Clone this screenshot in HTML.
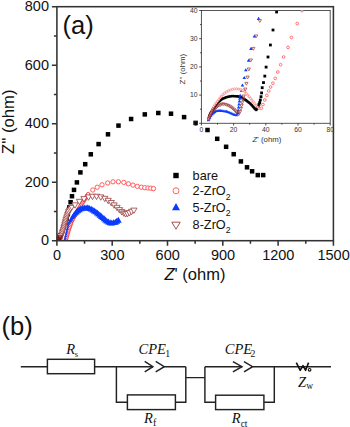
<!DOCTYPE html><html><head><meta charset="utf-8"><style>html,body{margin:0;padding:0;background:#fff;width:350px;height:427px;overflow:hidden}svg{display:block}</style></head><body><svg width="350" height="427" viewBox="0 0 350 427">
<rect width="350" height="427" fill="#fff"/>
<defs><clipPath id="cm"><rect x="56.9" y="6.7" width="276.5" height="234"/></clipPath><clipPath id="ci"><rect x="201.4" y="10.5" width="128.8" height="112.8"/></clipPath></defs><g clip-path="url(#cm)">
<g fill="#000"><rect x="56.25" y="237.25" width="4.5" height="4.5"/><rect x="58.11" y="233.15" width="4.5" height="4.5"/><rect x="59.89" y="229.02" width="4.5" height="4.5"/><rect x="61.57" y="224.85" width="4.5" height="4.5"/><rect x="63.09" y="220.61" width="4.5" height="4.5"/><rect x="64.42" y="216.31" width="4.5" height="4.5"/><rect x="65.6" y="211.97" width="4.5" height="4.5"/><rect x="66.63" y="207.6" width="4.5" height="4.5"/><rect x="67.05" y="205.15" width="4.5" height="4.5"/><rect x="68.35" y="199.95" width="4.5" height="4.5"/><rect x="69.75" y="193.95" width="4.5" height="4.5"/><rect x="71.75" y="187.65" width="4.5" height="4.5"/><rect x="74.65" y="180.15" width="4.5" height="4.5"/><rect x="78.15" y="170.15" width="4.5" height="4.5"/><rect x="82.95" y="161.95" width="4.5" height="4.5"/><rect x="88.55" y="152.05" width="4.5" height="4.5"/><rect x="96.35" y="141.85" width="4.5" height="4.5"/><rect x="105.75" y="132.05" width="4.5" height="4.5"/><rect x="116.25" y="123.35" width="4.5" height="4.5"/><rect x="128.85" y="116.75" width="4.5" height="4.5"/><rect x="142.55" y="112.15" width="4.5" height="4.5"/><rect x="156.05" y="110.75" width="4.5" height="4.5"/><rect x="168.75" y="111.45" width="4.5" height="4.5"/><rect x="181.85" y="114.85" width="4.5" height="4.5"/><rect x="193.35" y="120.65" width="4.5" height="4.5"/><rect x="205.25" y="127.75" width="4.5" height="4.5"/><rect x="214.95" y="136.55" width="4.5" height="4.5"/><rect x="223.85" y="144.55" width="4.5" height="4.5"/><rect x="231.45" y="151.95" width="4.5" height="4.5"/><rect x="238.65" y="159.15" width="4.5" height="4.5"/><rect x="244.75" y="165.05" width="4.5" height="4.5"/><rect x="249.85" y="169.05" width="4.5" height="4.5"/><rect x="255.55" y="172.85" width="4.5" height="4.5"/><rect x="260.95" y="172.85" width="4.5" height="4.5"/></g>
<g fill="#fff" stroke="#f22" stroke-width="0.8"><circle cx="65.5" cy="241" r="1.7"/><circle cx="65.92" cy="239.56" r="1.7"/><circle cx="66.34" cy="238.12" r="1.7"/><circle cx="66.75" cy="236.68" r="1.7"/><circle cx="67.17" cy="235.24" r="1.7"/><circle cx="67.59" cy="233.8" r="1.7"/><circle cx="68.01" cy="232.36" r="1.7"/><circle cx="68.43" cy="230.92" r="1.7"/><circle cx="68.9" cy="229.49" r="1.7"/><circle cx="69.38" cy="228.07" r="1.7"/><circle cx="69.85" cy="226.65" r="1.7"/><circle cx="70.33" cy="225.22" r="1.7"/><circle cx="70.8" cy="223.8" r="1.7"/><circle cx="71.27" cy="222.38" r="1.7"/><circle cx="71.91" cy="221.03" r="1.7"/><circle cx="72.61" cy="219.7" r="1.7"/><circle cx="73.31" cy="218.37" r="1.7"/><circle cx="74.01" cy="217.05" r="1.7"/><circle cx="74.73" cy="215.73" r="1.7"/><circle cx="75.47" cy="214.42" r="1.7"/><circle cx="76.2" cy="213.12" r="1.7"/><circle cx="76.94" cy="211.81" r="1.7"/><circle cx="77.72" cy="210.53" r="1.7"/><circle cx="78.51" cy="209.25" r="1.7"/><circle cx="79.29" cy="207.97" r="1.7"/><circle cx="80.08" cy="206.7" r="1.7"/><circle cx="80.88" cy="205.43" r="1.7"/><circle cx="81.68" cy="204.16" r="1.7"/><circle cx="82.48" cy="202.89" r="1.7"/><circle cx="83.29" cy="201.63" r="1.7"/><circle cx="84.09" cy="200.36" r="1.7"/><circle cx="84.91" cy="199.1" r="1.7"/><circle cx="85.72" cy="197.84" r="1.7"/><circle cx="86.54" cy="196.58" r="1.7"/><circle cx="87.35" cy="195.32" r="1.7"/><circle cx="88.17" cy="194.06" r="1.7"/></g><g fill="#fff" stroke="#f55" stroke-width="0.95"><circle cx="92.8" cy="190" r="2.15"/><circle cx="97.2" cy="187.2" r="2.15"/><circle cx="102" cy="184.8" r="2.15"/><circle cx="107.7" cy="183" r="2.15"/><circle cx="113" cy="181.8" r="2.15"/><circle cx="118.4" cy="181.8" r="2.15"/><circle cx="123.8" cy="182.4" r="2.15"/><circle cx="128.4" cy="183.8" r="2.15"/><circle cx="133" cy="185.1" r="2.15"/><circle cx="137.3" cy="186.3" r="2.15"/><circle cx="141.3" cy="187.2" r="2.15"/><circle cx="144.8" cy="187.7" r="2.15"/><circle cx="147.9" cy="188" r="2.15"/><circle cx="150.7" cy="188.2" r="2.15"/><circle cx="153.5" cy="188.6" r="2.15"/></g>
<g fill="#0a3cff"><path d="M64.5 239.79L65.9 242.21L63.1 242.21Z"/><path d="M64.89 238.03L66.29 240.46L63.49 240.46Z"/><path d="M65.28 236.27L66.68 238.7L63.88 238.7Z"/><path d="M65.67 234.52L67.07 236.94L64.27 236.94Z"/><path d="M66.06 232.76L67.46 235.18L64.66 235.18Z"/><path d="M66.45 231L67.85 233.43L65.05 233.43Z"/><path d="M66.86 229.25L68.26 231.67L65.46 231.67Z"/><path d="M67.27 227.5L68.67 229.92L65.87 229.92Z"/><path d="M67.69 225.71L69.13 228.21L66.25 228.21Z"/><path d="M68.1 223.88L69.63 226.53L66.57 226.53Z"/><path d="M68.52 222.05L70.15 224.87L66.9 224.87Z"/><path d="M69.4 220.31L71.22 223.46L67.58 223.46Z"/><path d="M70.27 218.56L72.29 222.06L68.26 222.06Z"/><path d="M71.16 216.83L73.37 220.66L68.95 220.66Z"/><path d="M72.11 215.12L74.53 219.32L69.69 219.32Z"/><path d="M73.06 213.41L75.7 217.97L70.42 217.97Z"/><path d="M74.06 211.72L76.92 216.67L71.2 216.67Z"/><path d="M75.24 210.13L78.36 215.54L72.12 215.54Z"/><path d="M76.42 208.55L79.8 214.4L73.04 214.4Z"/><path d="M77.76 207.36L81.16 213.25L74.36 213.25Z"/><path d="M79.26 206.37L82.66 212.26L75.86 212.26Z"/><path d="M80.81 205.46L84.21 211.35L77.41 211.35Z"/><path d="M82.52 204.92L85.92 210.81L79.12 210.81Z"/><path d="M84.25 204.45L87.65 210.34L80.85 210.34Z"/><path d="M86.05 204.4L89.45 210.29L82.65 210.29Z"/><path d="M87.85 204.36L91.25 210.25L84.45 210.25Z"/><path d="M89.52 205L92.92 210.89L86.12 210.89Z"/><path d="M91.18 205.71L94.58 211.59L87.78 211.59Z"/><path d="M92.77 206.53L96.17 212.42L89.37 212.42Z"/><path d="M94.29 207.49L97.69 213.38L90.89 213.38Z"/><path d="M95.82 208.44L99.22 214.33L92.42 214.33Z"/><path d="M97.22 209.57L100.62 215.45L93.82 215.45Z"/><path d="M98.61 210.71L102.01 216.6L95.21 216.6Z"/><path d="M100 211.86L103.4 217.74L96.6 217.74Z"/><path d="M101.39 213L104.79 218.89L97.99 218.89Z"/><path d="M102.76 214.17L106.16 220.06L99.36 220.06Z"/><path d="M104.12 215.35L107.52 221.24L100.72 221.24Z"/><path d="M105.48 216.53L108.88 222.42L102.08 222.42Z"/><path d="M106.84 217.71L110.24 223.6L103.44 223.6Z"/><path d="M108.44 218.5L111.84 224.39L105.04 224.39Z"/><path d="M110.08 219.24L113.48 225.13L106.68 225.13Z"/><path d="M111.78 219.51L115.18 225.4L108.38 225.4Z"/><path d="M113.55 219.18L116.95 225.07L110.15 225.07Z"/><path d="M115.32 218.84L118.72 224.73L111.92 224.73Z"/><path d="M116.82 217.86L120.22 223.75L113.42 223.75Z"/><path d="M118.33 216.87L121.73 222.76L114.93 222.76Z"/></g>
<g fill="#fff" stroke="#9a3a3a" stroke-width="0.75"><path d="M59.6 243.42L62.4 238.58L56.8 238.58Z"/><path d="M60.14 241.81L62.94 236.96L57.34 236.96Z"/><path d="M60.67 240.2L63.47 235.35L57.87 235.35Z"/><path d="M61.2 238.58L64 233.73L58.4 233.73Z"/><path d="M61.72 236.97L64.52 232.12L58.92 232.12Z"/><path d="M62.25 235.35L65.05 230.5L59.45 230.5Z"/><path d="M62.78 233.73L65.58 228.88L59.98 228.88Z"/><path d="M63.28 232.11L66.08 227.26L60.48 227.26Z"/><path d="M63.71 230.46L66.51 225.61L60.91 225.61Z"/><path d="M64.14 228.82L66.94 223.97L61.34 223.97Z"/><path d="M64.57 227.17L67.37 222.32L61.77 222.32Z"/><path d="M64.99 225.53L67.79 220.68L62.19 220.68Z"/><path d="M65.42 223.88L68.22 219.03L62.62 219.03Z"/><path d="M65.86 222.24L68.66 217.39L63.06 217.39Z"/><path d="M66.39 220.62L69.19 215.77L63.59 215.77Z"/><path d="M66.91 219.01L69.71 214.16L64.11 214.16Z"/><path d="M67.44 217.39L70.24 212.54L64.64 212.54Z"/><path d="M67.96 215.77L70.76 210.92L65.16 210.92Z"/><path d="M68.58 214.21L71.38 209.36L65.78 209.36Z"/><path d="M69.64 212.88L72.44 208.03L66.84 208.03Z"/><path d="M70.7 211.55L73.5 206.7L67.9 206.7Z"/><path d="M71.76 210.22L74.56 205.37L68.96 205.37Z"/><path d="M58.5 243.42L61.3 238.58L55.7 238.58Z"/><path d="M58.78 242.68L61.58 237.83L55.98 237.83Z"/><path d="M59.07 241.93L61.87 237.08L56.27 237.08Z"/><path d="M59.35 241.18L62.15 236.33L56.55 236.33Z"/><path d="M59.63 240.43L62.43 235.58L56.83 235.58Z"/><path d="M59.91 239.68L62.71 234.83L57.11 234.83Z"/><path d="M60.2 238.93L63 234.08L57.4 234.08Z"/></g><g fill="none" stroke="#801010" stroke-width="0.7"><path d="M58.4 243.32L60.5 239.68L56.3 239.68Z"/><path d="M58.73 242.48L60.83 238.85L56.63 238.85Z"/><path d="M59.07 241.65L61.17 238.01L56.97 238.01Z"/><path d="M59.4 240.81L61.5 237.17L57.3 237.17Z"/><path d="M59.74 239.98L61.84 236.34L57.64 236.34Z"/><path d="M60.07 239.14L62.17 235.5L57.97 235.5Z"/></g><g fill="#fff" stroke="#9e4444" stroke-width="0.85"><path d="M75 208.18L78.1 202.82L71.9 202.82Z"/><path d="M79.4 204.68L82.5 199.32L76.3 199.32Z"/><path d="M84 201.98L87.1 196.62L80.9 196.62Z"/><path d="M88.5 200.28L91.6 194.92L85.4 194.92Z"/><path d="M92.5 199.58L95.6 194.22L89.4 194.22Z"/><path d="M96.6 199.58L99.7 194.22L93.5 194.22Z"/><path d="M100.8 200.28L103.9 194.92L97.7 194.92Z"/><path d="M104.8 201.68L107.9 196.32L101.7 196.32Z"/><path d="M108.2 203.68L111.3 198.32L105.1 198.32Z"/><path d="M111.3 205.88L114.4 200.52L108.2 200.52Z"/><path d="M114.1 208.28L117.2 202.92L111 202.92Z"/><path d="M117 210.68L120.1 205.32L113.9 205.32Z"/><path d="M119.5 212.98L122.6 207.62L116.4 207.62Z"/><path d="M121.8 214.98L124.9 209.62L118.7 209.62Z"/><path d="M123.8 216.28L126.9 210.92L120.7 210.92Z"/><path d="M125.6 217.08L128.7 211.72L122.5 211.72Z"/><path d="M127.5 216.88L130.6 211.52L124.4 211.52Z"/><path d="M129.5 215.88L132.6 210.52L126.4 210.52Z"/><path d="M131.6 214.68L134.7 209.32L128.5 209.32Z"/><path d="M133.9 213.48L137 208.12L130.8 208.12Z"/></g>
</g>
<g stroke="#333" stroke-width="1.55" fill="none">
<rect x="56.9" y="6.7" width="276.5" height="234"/>
<path d="M51.9 240.7H56.9M53.9 211.45H56.9M51.9 182.2H56.9M53.9 152.95H56.9M51.9 123.7H56.9M53.9 94.45H56.9M51.9 65.2H56.9M53.9 35.95H56.9M51.9 6.7H56.9M56.9 240.7V245.7M84.55 240.7V243.7M112.2 240.7V245.7M139.85 240.7V243.7M167.5 240.7V245.7M195.15 240.7V243.7M222.8 240.7V245.7M250.45 240.7V243.7M278.1 240.7V245.7M305.75 240.7V243.7M333.4 240.7V245.7"/>
</g>
<g font-family="Liberation Sans, sans-serif" font-size="14.5" fill="#111">
<text x="49" y="245.3" text-anchor="end">0</text>
<text x="49" y="186.8" text-anchor="end">200</text>
<text x="49" y="128.3" text-anchor="end">400</text>
<text x="49" y="69.8" text-anchor="end">600</text>
<text x="49" y="11.3" text-anchor="end">800</text>
<text x="57.1" y="260" text-anchor="middle">0</text>
<text x="112.4" y="260" text-anchor="middle">300</text>
<text x="167.7" y="260" text-anchor="middle">600</text>
<text x="223" y="260" text-anchor="middle">900</text>
<text x="278.3" y="260" text-anchor="middle">1200</text>
<text x="333.6" y="260" text-anchor="middle">1500</text>
</g>
<text x="164.5" y="279.7" font-family="Liberation Sans, sans-serif" font-size="16.5" fill="#111"><tspan font-style="italic">Z</tspan>' (ohm)</text>
<text transform="translate(13.8,154) rotate(-90)" font-family="Liberation Sans, sans-serif" font-size="16.6" fill="#111">Z'' (ohm)</text>
<text x="62.5" y="33.9" font-family="Liberation Sans, sans-serif" font-size="25.6" fill="#111">(a)</text>
<g font-family="Liberation Sans, sans-serif" font-size="12.7" fill="#111">
<rect x="173.3" y="172.8" width="5.4" height="5.4" fill="#000"/>
<text x="192.6" y="180">bare</text>
<circle cx="176" cy="190.8" r="3" fill="none" stroke="#f55" stroke-width="0.9"/>
<text x="192.6" y="195.4">2-ZrO<tspan font-size="8.7" dy="4.4">2</tspan></text>
<path d="M176 203.1L180 210.3H172Z" fill="#0a3cff"/>
<text x="192.6" y="212">5-ZrO<tspan font-size="8.7" dy="4.4">2</tspan></text>
<path d="M176 229.2L180.2 222.2H171.8Z" fill="none" stroke="#9a3b3b" stroke-width="0.9"/>
<text x="192.6" y="229">8-ZrO<tspan font-size="8.7" dy="4.4">2</tspan></text>
</g>
<rect x="201.4" y="10.5" width="128.8" height="112.8" fill="#fff" stroke="#444" stroke-width="0.9"/>
<g clip-path="url(#ci)">
<g fill="#000"><rect x="207.35" y="118.35" width="2.3" height="2.3"/><rect x="207.65" y="117.29" width="2.3" height="2.3"/><rect x="207.96" y="116.24" width="2.3" height="2.3"/><rect x="208.26" y="115.18" width="2.3" height="2.3"/><rect x="208.57" y="114.12" width="2.3" height="2.3"/><rect x="208.87" y="113.07" width="2.3" height="2.3"/><rect x="209.3" y="112.06" width="2.3" height="2.3"/><rect x="209.9" y="111.14" width="2.3" height="2.3"/><rect x="210.49" y="110.22" width="2.3" height="2.3"/><rect x="211.09" y="109.29" width="2.3" height="2.3"/><rect x="211.69" y="108.37" width="2.3" height="2.3"/><rect x="212.29" y="107.45" width="2.3" height="2.3"/><rect x="212.94" y="106.56" width="2.3" height="2.3"/><rect x="213.58" y="105.67" width="2.3" height="2.3"/><rect x="214.23" y="104.78" width="2.3" height="2.3"/><rect x="214.87" y="103.89" width="2.3" height="2.3"/><rect x="215.52" y="102.99" width="2.3" height="2.3"/><rect x="216.16" y="102.1" width="2.3" height="2.3"/><rect x="216.81" y="101.21" width="2.3" height="2.3"/><rect x="217.64" y="100.5" width="2.3" height="2.3"/><rect x="218.49" y="99.8" width="2.3" height="2.3"/><rect x="219.34" y="99.1" width="2.3" height="2.3"/><rect x="220.19" y="98.4" width="2.3" height="2.3"/><rect x="221.07" y="97.76" width="2.3" height="2.3"/><rect x="222.09" y="97.35" width="2.3" height="2.3"/><rect x="223.11" y="96.94" width="2.3" height="2.3"/><rect x="224.13" y="96.52" width="2.3" height="2.3"/><rect x="225.15" y="96.11" width="2.3" height="2.3"/><rect x="226.21" y="95.81" width="2.3" height="2.3"/><rect x="227.28" y="95.59" width="2.3" height="2.3"/><rect x="228.36" y="95.37" width="2.3" height="2.3"/><rect x="229.44" y="95.14" width="2.3" height="2.3"/><rect x="230.51" y="94.92" width="2.3" height="2.3"/><rect x="231.61" y="94.89" width="2.3" height="2.3"/><rect x="232.7" y="94.94" width="2.3" height="2.3"/><rect x="233.8" y="95" width="2.3" height="2.3"/><rect x="234.9" y="95.06" width="2.3" height="2.3"/><rect x="235.99" y="95.18" width="2.3" height="2.3"/><rect x="237.09" y="95.3" width="2.3" height="2.3"/><rect x="238.18" y="95.43" width="2.3" height="2.3"/><rect x="239.27" y="95.56" width="2.3" height="2.3"/><rect x="240.21" y="96.13" width="2.3" height="2.3"/><rect x="241.15" y="96.71" width="2.3" height="2.3"/><rect x="242.09" y="97.28" width="2.3" height="2.3"/><rect x="243.03" y="97.85" width="2.3" height="2.3"/><rect x="243.96" y="98.43" width="2.3" height="2.3"/><rect x="244.83" y="99.1" width="2.3" height="2.3"/><rect x="245.7" y="99.78" width="2.3" height="2.3"/><rect x="246.58" y="100.45" width="2.3" height="2.3"/><rect x="247.45" y="101.12" width="2.3" height="2.3"/><rect x="248.32" y="101.79" width="2.3" height="2.3"/><rect x="249.17" y="102.48" width="2.3" height="2.3"/><rect x="249.92" y="103.28" width="2.3" height="2.3"/><rect x="250.67" y="104.09" width="2.3" height="2.3"/><rect x="251.42" y="104.89" width="2.3" height="2.3"/><rect x="252.15" y="105.72" width="2.3" height="2.3"/><rect x="252.84" y="106.57" width="2.3" height="2.3"/><rect x="253.53" y="107.43" width="2.3" height="2.3"/><rect x="254.3" y="108.21" width="2.3" height="2.3"/><rect x="255.19" y="108.86" width="2.3" height="2.3"/><rect x="255.6" y="107.2" width="2.8" height="2.8"/><rect x="256.8" y="104.8" width="2.8" height="2.8"/><rect x="257.6" y="102.8" width="2.8" height="2.8"/><rect x="258.3" y="101.1" width="2.8" height="2.8"/><rect x="258.9" y="98.6" width="2.8" height="2.8"/><rect x="259.6" y="95.3" width="2.8" height="2.8"/><rect x="260.2" y="91.5" width="2.8" height="2.8"/><rect x="260.8" y="86.3" width="2.8" height="2.8"/><rect x="262.1" y="81.2" width="2.8" height="2.8"/><rect x="263.4" y="74.7" width="2.8" height="2.8"/><rect x="264.7" y="65.7" width="2.8" height="2.8"/><rect x="266.6" y="55.6" width="2.8" height="2.8"/><rect x="269" y="43.6" width="2.8" height="2.8"/><rect x="271.6" y="28.6" width="2.8" height="2.8"/><rect x="275.2" y="10.6" width="2.8" height="2.8"/></g>
<g fill="#0a3cff"><path d="M208.3 118.66L209.85 121.34L206.75 121.34Z"/><path d="M208.87 117.6L210.42 120.29L207.32 120.29Z"/><path d="M209.44 116.55L210.99 119.23L207.89 119.23Z"/><path d="M210.01 115.49L211.56 118.17L208.46 118.17Z"/><path d="M210.58 114.43L212.13 117.12L209.03 117.12Z"/><path d="M211.23 113.44L212.78 116.13L209.68 116.13Z"/><path d="M212.12 112.64L213.67 115.32L210.57 115.32Z"/><path d="M213.01 111.83L214.56 114.51L211.46 114.51Z"/><path d="M213.9 111.02L215.45 113.71L212.35 113.71Z"/><path d="M214.79 110.22L216.34 112.9L213.24 112.9Z"/><path d="M215.76 109.58L217.31 112.26L214.21 112.26Z"/><path d="M216.93 109.31L218.48 112L215.38 112Z"/><path d="M218.1 109.05L219.65 111.73L216.55 111.73Z"/><path d="M219.29 109.02L220.84 111.7L217.74 111.7Z"/><path d="M220.49 109.11L222.04 111.8L218.94 111.8Z"/><path d="M221.68 109.21L223.23 111.89L220.13 111.89Z"/><path d="M222.88 109.34L224.43 112.02L221.33 112.02Z"/><path d="M224.06 109.51L225.61 112.19L222.51 112.19Z"/><path d="M225.25 109.68L226.8 112.36L223.7 112.36Z"/><path d="M226.44 109.85L227.99 112.53L224.89 112.53Z"/><path d="M227.57 110.24L229.12 112.92L226.02 112.92Z"/><path d="M228.7 110.64L230.25 113.33L227.15 113.33Z"/><path d="M229.83 111.04L231.38 113.73L228.28 113.73Z"/><path d="M230.96 111.45L232.51 114.13L229.41 114.13Z"/><path d="M232.03 111.99L233.58 114.67L230.48 114.67Z"/><path d="M233.1 112.54L234.65 115.22L231.55 115.22Z"/><path d="M234.17 113.09L235.72 115.77L232.62 115.77Z"/><path d="M235.31 113.41L236.86 116.1L233.76 116.1Z"/><path d="M236.49 113.64L238.04 116.32L234.94 116.32Z"/><path d="M237.8 111.48L239.55 114.52L236.05 114.52Z"/><path d="M238.2 108.51L239.95 111.54L236.45 111.54Z"/><path d="M238.59 105.54L240.34 108.57L236.84 108.57Z"/><path d="M238.99 102.56L240.74 105.59L237.24 105.59Z"/><path d="M239.39 99.59L241.14 102.62L237.64 102.62Z"/><path d="M239.78 96.62L241.53 99.65L238.03 99.65Z"/><path d="M240.18 93.64L241.93 96.67L238.43 96.67Z"/><path d="M241.5 88.64L243.3 91.76L239.7 91.76Z"/><path d="M242.5 83.44L244.3 86.56L240.7 86.56Z"/><path d="M244.3 75.94L246.1 79.06L242.5 79.06Z"/><path d="M245.8 68.14L247.6 71.26L244 71.26Z"/><path d="M248.6 58.74L250.4 61.86L246.8 61.86Z"/><path d="M251 46.84L252.8 49.96L249.2 49.96Z"/><path d="M254.4 34.44L256.2 37.56L252.6 37.56Z"/><path d="M258.6 16.84L260.4 19.96L256.8 19.96Z"/></g>
<g fill="#fff" stroke="#f66" stroke-width="0.6"><circle cx="208.5" cy="119" r="1.05"/><circle cx="209.32" cy="116.96" r="1.05"/><circle cx="210.13" cy="114.91" r="1.05"/><circle cx="210.96" cy="112.88" r="1.05"/><circle cx="211.8" cy="110.84" r="1.05"/><circle cx="212.63" cy="108.81" r="1.05"/><circle cx="213.67" cy="106.87" r="1.05"/><circle cx="214.75" cy="104.95" r="1.05"/><circle cx="216.03" cy="103.17" r="1.05"/><circle cx="217.37" cy="101.42" r="1.05"/><circle cx="218.69" cy="99.66" r="1.05"/><circle cx="219.99" cy="97.89" r="1.05"/><circle cx="221.35" cy="96.17" r="1.05"/><circle cx="222.95" cy="94.65" r="1.05"/><circle cx="224.54" cy="93.14" r="1.05"/><circle cx="226.39" cy="91.97" r="1.05"/><circle cx="228.31" cy="90.89" r="1.05"/><circle cx="230.33" cy="90.04" r="1.05"/><circle cx="232.41" cy="89.32" r="1.05"/><circle cx="234.53" cy="88.87" r="1.05"/><circle cx="236.73" cy="88.81" r="1.05"/><circle cx="238.91" cy="89.08" r="1.05"/><circle cx="241.01" cy="89.63" r="1.05"/><circle cx="242.94" cy="90.69" r="1.05"/><circle cx="244.81" cy="91.83" r="1.05"/><circle cx="246.27" cy="93.47" r="1.05"/><circle cx="247.73" cy="95.12" r="1.05"/><circle cx="249.19" cy="96.76" r="1.05"/><circle cx="250.62" cy="98.44" r="1.05"/><circle cx="251.97" cy="100.17" r="1.05"/><circle cx="253.32" cy="101.91" r="1.05"/><circle cx="254.67" cy="103.65" r="1.05"/><circle cx="256.08" cy="105.34" r="1.05"/><circle cx="257.51" cy="107.01" r="1.05"/><circle cx="258.94" cy="108.68" r="1.05"/></g><g fill="#fff" stroke="#f55" stroke-width="0.8"><circle cx="261.3" cy="108.3" r="1.35"/><circle cx="262.9" cy="104.5" r="1.35"/><circle cx="264.8" cy="100" r="1.35"/><circle cx="266.8" cy="95.4" r="1.35"/><circle cx="268.7" cy="90.9" r="1.35"/><circle cx="270.6" cy="87" r="1.35"/><circle cx="272.9" cy="83.2" r="1.35"/><circle cx="275.2" cy="78.4" r="1.35"/><circle cx="277.8" cy="72" r="1.35"/><circle cx="280.6" cy="64.7" r="1.35"/><circle cx="283.6" cy="57" r="1.35"/><circle cx="288" cy="47.4" r="1.35"/><circle cx="291.4" cy="37.4" r="1.35"/><circle cx="297.2" cy="23.5" r="1.35"/><circle cx="302" cy="10.6" r="1.35"/></g>
<g fill="none" stroke="#8b2323" stroke-width="0.55"><path d="M208.8 120.34L210.35 117.66L207.25 117.66Z"/><path d="M209.48 118.79L211.03 116.1L207.93 116.1Z"/><path d="M210.17 117.23L211.72 114.55L208.62 114.55Z"/><path d="M210.85 115.67L212.4 112.99L209.3 112.99Z"/><path d="M211.77 114.25L213.32 111.57L210.22 111.57Z"/><path d="M212.76 112.87L214.31 110.18L211.21 110.18Z"/><path d="M213.75 111.49L215.3 108.8L212.2 108.8Z"/><path d="M214.97 110.3L216.52 107.62L213.42 107.62Z"/><path d="M216.19 109.12L217.74 106.43L214.64 106.43Z"/><path d="M217.41 107.93L218.96 105.25L215.86 105.25Z"/><path d="M218.91 107.14L220.46 104.45L217.36 104.45Z"/><path d="M220.43 106.38L221.98 103.69L218.88 103.69Z"/><path d="M221.95 105.62L223.5 102.93L220.4 102.93Z"/><path d="M223.58 105.68L225.13 103L222.03 103Z"/><path d="M225.25 106L226.8 103.32L223.7 103.32Z"/><path d="M226.87 106.51L228.42 103.82L225.32 103.82Z"/><path d="M228.43 107.17L229.98 104.49L226.88 104.49Z"/><path d="M229.93 107.96L231.48 105.28L228.38 105.28Z"/><path d="M231.34 108.9L232.89 106.22L229.79 106.22Z"/><path d="M232.68 109.94L234.23 107.26L231.13 107.26Z"/><path d="M233.96 111.07L235.51 108.38L232.41 108.38Z"/><path d="M235.15 112.27L236.7 109.59L233.6 109.59Z"/><path d="M236.28 113.54L237.83 110.86L234.73 110.86Z"/><path d="M237.4 114.82L238.95 112.14L235.85 112.14Z"/><path d="M238.49 116.13L240.04 113.44L236.94 113.44Z"/></g><g fill="none" stroke="#a04a4a" stroke-width="0.8"><path d="M240 113.43L241.65 110.57L238.35 110.57Z"/><path d="M240.73 110.31L242.38 107.46L239.08 107.46Z"/><path d="M241.46 107.2L243.11 104.34L239.81 104.34Z"/><path d="M242.2 104.08L243.85 101.23L240.55 101.23Z"/><path d="M242.93 100.97L244.58 98.11L241.28 98.11Z"/><path d="M243.66 97.85L245.31 95L242.01 95Z"/><path d="M245.3 90.93L246.95 88.07L243.65 88.07Z"/><path d="M246.4 85.23L248.05 82.37L244.75 82.37Z"/><path d="M247.6 78.93L249.25 76.07L245.95 76.07Z"/><path d="M248.8 70.83L250.45 67.97L247.15 67.97Z"/><path d="M250.8 61.83L252.45 58.97L249.15 58.97Z"/><path d="M253.3 50.23L254.95 47.37L251.65 47.37Z"/><path d="M256.1 37.83L257.75 34.97L254.45 34.97Z"/><path d="M259.8 22.43L261.45 19.57L258.15 19.57Z"/></g>
</g>
<path d="M199.2 123.3H201.4M200 109.2H201.4M199.2 95.1H201.4M200 81H201.4M199.2 66.9H201.4M200 52.8H201.4M199.2 38.7H201.4M200 24.6H201.4M199.2 10.5H201.4M201.4 123.3V125.5M217.5 123.3V124.7M233.6 123.3V125.5M249.7 123.3V124.7M265.8 123.3V125.5M281.9 123.3V124.7M298 123.3V125.5M314.1 123.3V124.7M330.2 123.3V125.5" stroke="#222" stroke-width="0.8" fill="none"/>
<g font-family="Liberation Sans, sans-serif" font-size="6.8" fill="#333">
<text x="197.6" y="125.6" text-anchor="end">0</text>
<text x="197.6" y="97.4" text-anchor="end">10</text>
<text x="197.6" y="69.2" text-anchor="end">20</text>
<text x="197.6" y="41" text-anchor="end">30</text>
<text x="197.6" y="12.8" text-anchor="end">40</text>
<text x="201.4" y="132.4" text-anchor="middle">0</text>
<text x="233.6" y="132.4" text-anchor="middle">20</text>
<text x="265.8" y="132.4" text-anchor="middle">40</text>
<text x="298" y="132.4" text-anchor="middle">60</text>
<text x="330.2" y="132.4" text-anchor="middle">80</text>
</g>
<text x="252.6" y="141.5" font-family="Liberation Sans, sans-serif" font-size="7.8" fill="#333"><tspan font-style="italic">Z</tspan>' (ohm)</text>
<text transform="translate(185,84.4) rotate(-90)" font-family="Liberation Sans, sans-serif" font-size="7.9" fill="#333">Z'' (ohm)</text>
<text x="1.6" y="334.6" font-family="Liberation Sans, sans-serif" font-size="25.6" fill="#111">(b)</text>
<path stroke="#222" stroke-width="1.45" fill="none" d="M20.8 366.7H47.4M94.6 366.7H116.4M116.4 366.7V402.2H127.4M175.4 402.2H185.8V366.7M116.4 366.7H152.9M164.3 366.7H185.8M185.8 377.6H204.9M204.9 366.7V402.2H215.6M263.9 402.2H274.3V366.7M204.9 366.7H242M252.6 366.7H331"/>
<rect x="47.4" y="359.3" width="47.2" height="14.4" stroke="#222" stroke-width="1.45" fill="none"/>
<rect x="127.4" y="394.9" width="48" height="14.7" stroke="#222" stroke-width="1.45" fill="none"/>
<rect x="215.6" y="395.2" width="48.3" height="14.4" stroke="#222" stroke-width="1.45" fill="none"/>
<path stroke="#222" stroke-width="1.45" fill="none" d="M144.7 361.4L152.9 366.7L144.7 371.9M155.7 361.4L164.3 366.7L155.7 371.9M232.9 361.6L242 366.7L232.9 371.9M244 361.6L252.6 366.7L244 371.9"/>
<path stroke="#111" stroke-width="1.6" fill="none" stroke-linejoin="round" d="M296.3 362.6L300.2 370.3L303 365.6L305.6 370.3L308.6 362.6"/><circle cx="309.6" cy="369.8" r="1.35" stroke="#111" stroke-width="1.1" fill="#fff"/>
<g font-family="Liberation Serif, serif" font-style="italic" font-size="14.5" fill="#111">
<text x="66.2" y="353.9">R<tspan font-style="normal" font-size="8.6" dx="-0.3" dy="3.4">s</tspan></text>
<text x="138.6" y="354.2">CPE<tspan font-style="normal" font-size="9.8" dx="-0.8" dy="3.2">1</tspan></text>
<text x="224.8" y="354.2">CPE<tspan font-style="normal" font-size="9.8" dx="-1.8" dy="3.2">2</tspan></text>
<text x="143.9" y="422.6">R<tspan font-style="normal" font-size="10" dx="0.2" dy="3">f</tspan></text>
<text x="231.8" y="423">R<tspan font-style="normal" font-size="9.5" dy="3.6">ct</tspan></text>
<text x="298.1" y="386.8">Z<tspan font-style="normal" font-size="9.5" dy="2.6">w</tspan></text>
</g>
</svg></body></html>
